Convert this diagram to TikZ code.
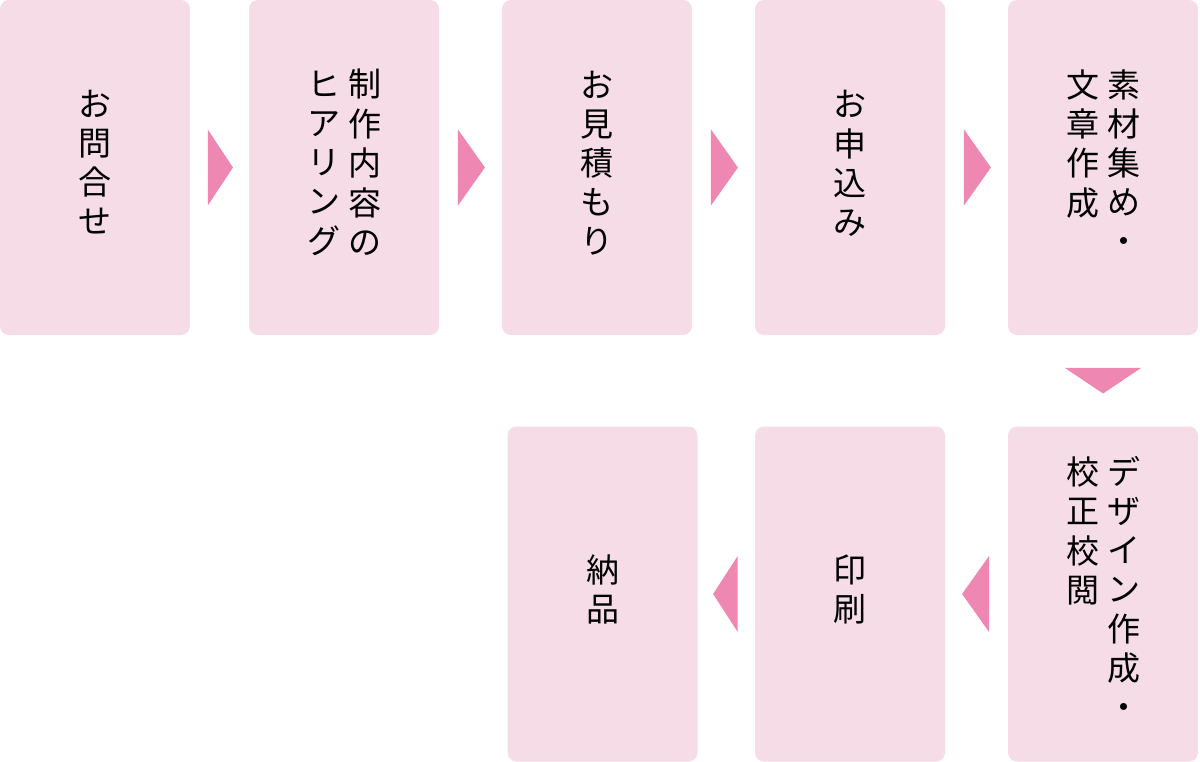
\documentclass[tikz,border=0pt]{standalone}
\usepackage{fontspec}
\newfontfamily\jpfont{Noto Sans CJK JP}
\usetikzlibrary{positioning, calc}
\definecolor{boxpink}{HTML}{F5DCE6}
\definecolor{arrowpink}{HTML}{EE88B3}
\newcommand\tate[1]{\begin{tabular}[t]{@{}c@{}}#1\end{tabular}}
\tikzset{
  stepbox/.style={fill=boxpink, rounded corners=9pt, minimum width=190pt,
    minimum height=335pt, inner sep=0pt, font=\jpfont\fontsize{33}{39}\selectfont},
  tri/.style={fill=arrowpink}
}
\begin{document}
\begin{tikzpicture}[x=1pt,y=-1pt]
  \useasboundingbox (0,0) rectangle (1200,762);
% top row
  \node[stepbox] (s1) at (95,167.5) {\tate{お\\問\\合\\せ}};
  \node[stepbox] (s2) at (344,167.5) {\tate{ヒ\\ア\\リ\\ン\\グ}\hspace{8pt}\tate{制\\作\\内\\容\\の}};
  \node[stepbox] (s3) at (597,167.5) {\tate{お\\見\\積\\も\\り}};
  \node[stepbox] (s4) at (850,167.5) {\tate{お\\申\\込\\み}};
  \node[stepbox] (s5) at (1103,167.5) {\tate{文\\章\\作\\成}\hspace{8pt}\tate{素\\材\\集\\め\\・}};
% bottom row
  \node[stepbox] (s6) at (1103,594) {\tate{校\\正\\校\\閲}\hspace{8pt}\tate{デ\\ザ\\イ\\ン\\作\\成\\・}};
  \node[stepbox] (s7) at (850,594) {\tate{印\\刷}};
  \node[stepbox] (s8) at (602.5,594) {\tate{納\\品}};
% arrows
  \foreach \a/\b in {s1/s2,s2/s3,s3/s4,s4/s5}
    \fill[tri] ($(\a.east)!0.3!(\b.west)+(0,-38)$) -- ($(\a.east)!0.73!(\b.west)$) -- ($(\a.east)!0.3!(\b.west)+(0,38)$) -- cycle;
  \fill[tri] ($(s5.south)!0.36!(s6.north)+(-38,0)$) -- ($(s5.south)!0.64!(s6.north)$) -- ($(s5.south)!0.36!(s6.north)+(38,0)$) -- cycle;
  \foreach \a/\b in {s6/s7,s7/s8}
    \fill[tri] ($(\a.west)!0.3!(\b.east)+(0,-38)$) -- ($(\a.west)!0.73!(\b.east)$) -- ($(\a.west)!0.3!(\b.east)+(0,38)$) -- cycle;
\end{tikzpicture}
\end{document}
